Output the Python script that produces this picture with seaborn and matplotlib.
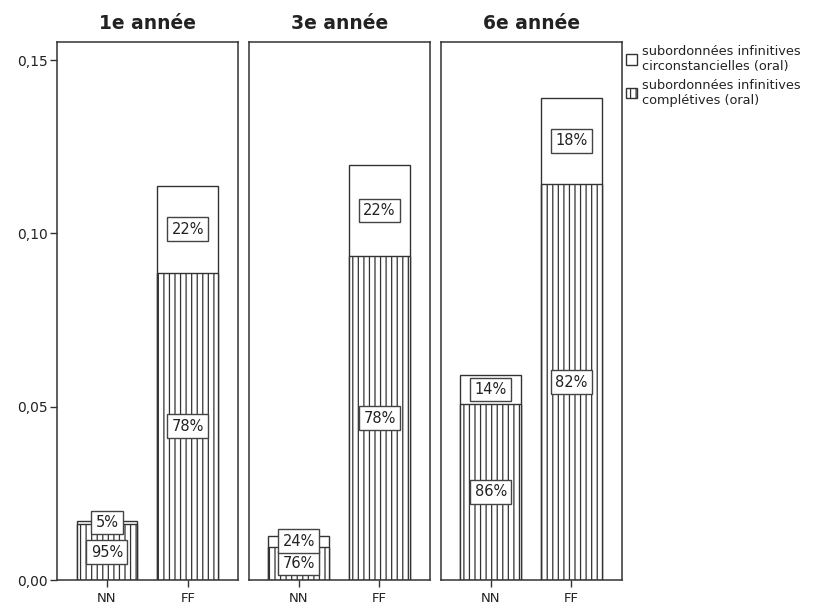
import matplotlib
matplotlib.use("Agg")
import matplotlib.pyplot as plt
from matplotlib.patches import Patch
from matplotlib.ticker import FuncFormatter, FixedLocator
import pandas as pd
import seaborn as sns

# Data: mean frequency per group and school year, split into two clause types
years = ["1e année", "3e année", "6e année"]
groups = ["NN", "FF"]
totals_nn = [0.0170, 0.0127, 0.0591]
totals_ff = [0.1137, 0.1198, 0.1392]
pct_completives_nn = [95, 76, 86]
pct_completives_ff = [78, 78, 82]
y_ticks = [0.00, 0.05, 0.10, 0.15]

label_circ = "subordonnées infinitives\ncirconstancielles (oral)"
label_comp = "subordonnées infinitives\ncomplétives (oral)"

rows = []
for i, yr in enumerate(years):
    for grp, tot, pct in (("NN", totals_nn[i], pct_completives_nn[i]),
                          ("FF", totals_ff[i], pct_completives_ff[i])):
        comp = tot * pct / 100.0
        rows.append({"annee": yr, "groupe": grp, "total": tot,
                     "completives": comp, "pct_comp": pct,
                     "pct_circ": 100 - pct})
df = pd.DataFrame(rows)

sns.set_theme(style="white")
plt.rcParams["font.family"] = ["DejaVu Sans"]
plt.rcParams["hatch.linewidth"] = 0.9

W, H = 831, 605
fig = plt.figure(figsize=(W / 100, H / 100), dpi=100)
fig.patch.set_facecolor("white")

edge = "#333333"
text_col = "#222222"
panel_left = [57.3, 249.0, 441.0]
panel_w = 181.0
panel_top, panel_bottom = 41.7, 580.0

axes = []
for i, yr in enumerate(years):
    ax = fig.add_axes([panel_left[i] / W, 1 - panel_bottom / H,
                       panel_w / W, (panel_bottom - panel_top) / H])
    axes.append(ax)
    sub = df[df["annee"] == yr]

    sns.barplot(data=sub, x="groupe", y="total", order=groups, color="white",
                saturation=1, edgecolor=edge, linewidth=1.0, width=0.75,
                errorbar=None, ax=ax)
    n_before = len(ax.patches)
    sns.barplot(data=sub, x="groupe", y="completives", order=groups,
                color="white", saturation=1, edgecolor=edge, linewidth=1.0,
                width=0.75, errorbar=None, ax=ax)
    for p in ax.patches[n_before:]:
        p.set_hatch("|||")

    box = dict(boxstyle="square,pad=0.3", facecolor="white",
               edgecolor="#444444", linewidth=1.0)
    for j, grp in enumerate(groups):
        r = sub[sub["groupe"] == grp].iloc[0]
        ax.text(j, r["completives"] / 2, f"{r['pct_comp']}%", ha="center",
                va="center", fontsize=10.5, color=text_col, bbox=box, zorder=5)
        ax.text(j, (r["completives"] + r["total"]) / 2, f"{r['pct_circ']}%",
                ha="center", va="center", fontsize=10.5, color=text_col,
                bbox=box, zorder=6)

    ax.set_xlim(-0.615, 1.625)
    ax.set_ylim(0, 0.1553)
    ax.set_xlabel("")
    ax.set_ylabel("")
    ax.set_title(yr, fontsize=13.5, fontweight="bold", color=text_col, pad=9)
    for s in ax.spines.values():
        s.set_visible(True)
        s.set_color(edge)
        s.set_linewidth(1.1)
    ax.tick_params(axis="x", bottom=True, length=5, width=1.0, color=edge,
                   labelsize=9.5, labelcolor=text_col, pad=4)
    if i == 0:
        ax.yaxis.set_major_locator(FixedLocator(y_ticks))
        ax.yaxis.set_major_formatter(
            FuncFormatter(lambda v, _: f"{v:.2f}".replace(".", ",")))
        ax.tick_params(axis="y", left=True, length=5, width=1.0, color=edge,
                       labelsize=10, labelcolor=text_col, pad=2)
    else:
        ax.set_yticks([])
    ax.grid(False)

handles = [Patch(facecolor="white", edgecolor=edge, linewidth=1.0),
           Patch(facecolor="white", edgecolor=edge, linewidth=1.0, hatch="|||")]
fig.legend(handles, [label_circ, label_comp], loc="upper left",
           bbox_to_anchor=(626 / W, 1 - 45 / H), frameon=False, fontsize=9.3,
           handlelength=0.85, handleheight=0.85, handletextpad=0.4,
           labelspacing=0.45, borderaxespad=0, borderpad=0,
           labelcolor=text_col)

fig.savefig("out.png", dpi=100, facecolor="white")
